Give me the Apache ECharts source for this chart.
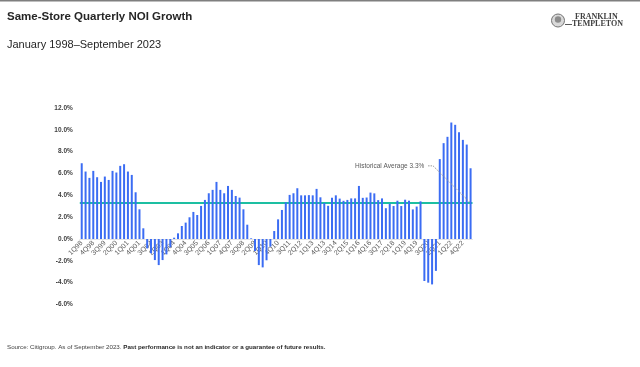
<!DOCTYPE html>
<html><head><meta charset="utf-8">
<script src="https://cdn.jsdelivr.net/npm/echarts@6/dist/echarts.min.js"></script>
<style>html,body{margin:0;padding:0;background:#fff}#c{width:640px;height:367px}</style>
</head><body><div id="c"></div>
<script>
// Quarter labels 1Q98 .. 2Q23
const quarters = [];
for (let y = 1998; y <= 2023; y++) {
  for (let q = 1; q <= 4; q++) {
    if (y === 2023 && q > 2) break;
    quarters.push(q + 'Q' + String(y).slice(2));
  }
}
// Same-store NOI growth, %
const noiGrowth = [
  6.94, 6.18, 5.60, 6.24, 5.66, 5.23, 5.72, 5.41, 6.24, 6.09, 6.70, 6.85,
  6.18, 5.87, 4.28, 2.72, 0.98, -0.86, -1.31, -1.93, -2.39, -1.93, -1.41, -0.76,
  0.12, 0.52, 1.19, 1.50, 1.99, 2.48, 2.20, 3.03, 3.58, 4.19, 4.50, 5.23,
  4.50, 4.19, 4.86, 4.50, 3.94, 3.79, 2.72, 1.31, 0.06, -1.10, -2.39, -2.60,
  -1.95, -0.70, 0.73, 1.80, 2.66, 3.36, 4.04, 4.19, 4.65, 4.00, 4.00, 4.02,
  4.00, 4.59, 3.82, 3.30, 3.04, 3.78, 4.00, 3.70, 3.50, 3.58, 3.72, 3.72,
  4.86, 3.77, 3.80, 4.25, 4.18, 3.56, 3.72, 2.82, 3.22, 3.02, 3.51, 3.02,
  3.60, 3.51, 2.71, 2.97, 3.45, -3.85, -4.00, -4.16, -2.92, 7.32, 8.78, 9.36,
  10.67, 10.46, 9.78, 9.08, 8.65, 6.48
];
const historicalAverage = 3.3;
const averageLabel = 'Historical Average 3.3%';
const yMin = -6, yMax = 12, yStep = 2;

const gridTop = 108, gridBottom = 62.5, H = 367;
const gridH = H - gridTop - gridBottom;
const zeroOffset = gridH * (0 - yMin) / (yMax - yMin); // distance from grid bottom to the zero line

const chart = echarts.init(document.getElementById('c'), null, {renderer: 'canvas'});
const FONT = 'Liberation Sans, Arial, sans-serif';

chart.setOption({
  animation: false,
  backgroundColor: '#fff',
  grid: {left: 79.8, right: 167.5, top: gridTop, bottom: gridBottom, containLabel: false},
  xAxis: {
    type: 'category',
    data: quarters,
    position: 'bottom',
    offset: -zeroOffset,
    z: 0,
    axisLine: {onZero: false, lineStyle: {color: '#e3e3e3', width: 1}},
    axisTick: {show: false},
    axisLabel: {interval: 2, rotate: 45, fontSize: 7, color: '#595959', margin: 3, fontFamily: FONT},
    splitLine: {show: false}
  },
  yAxis: {
    type: 'value',
    min: yMin, max: yMax, interval: yStep,
    axisLine: {show: false},
    axisTick: {show: false},
    splitLine: {show: false},
    axisLabel: {
      formatter: v => v.toFixed(1) + '%',
      fontSize: 6.5, fontWeight: 'bold', color: '#404040', margin: 7, fontFamily: FONT
    }
  },
  series: [{
    type: 'bar',
    data: noiGrowth,
    barWidth: 2,
    z: 5,
    itemStyle: {color: '#3b6cf3'},
    markLine: {
      silent: true,
      symbol: 'none',
      label: {show: false},
      lineStyle: {color: '#1dbfa2', width: 2, type: 'solid'},
      data: [{yAxis: historicalAverage}]
    }
  }]
});

// annotation: label + leader line to the average line near the last bar
const lastIdx = noiGrowth.length - 1;
const pLabel = chart.convertToPixel({gridIndex: 0}, [71, 6.7]);
const pEnd = chart.convertToPixel({gridIndex: 0}, [lastIdx, historicalAverage]);

chart.setOption({
  graphic: [
    {type: 'text', left: 7, top: 11, style: {text: 'Same-Store Quarterly NOI Growth', font: 'bold 11.5px ' + FONT, fill: '#262626'}},
    {type: 'text', left: 7, top: 39, style: {text: 'January 1998\u2013September 2023', font: '11px ' + FONT, fill: '#262626'}},
    {type: 'text', left: 7, top: 344, style: {
      rich: {a: {font: '6.2px ' + FONT, fill: '#404040'}, b: {font: 'bold 6.2px ' + FONT, fill: '#262626'}},
      text: '{a|Source: Citigroup. As of September 2023. }{b|Past performance is not an indicator or a guarantee of future results.}'
    }},
    // logo
    {type: 'circle', shape: {cx: 558, cy: 20.5, r: 6.5}, style: {fill: '#d9d9d9', stroke: '#737373', lineWidth: 1}},
    {type: 'circle', shape: {cx: 558, cy: 19.5, r: 3.2}, style: {fill: '#8c8c8c'}},
    {type: 'line', shape: {x1: 565, y1: 24.5, x2: 572, y2: 24.5}, style: {stroke: '#595959', lineWidth: 1}},
    {type: 'text', left: 575, top: 12.5, style: {text: 'FRANKLIN', font: 'bold 8px Liberation Serif, serif', fill: '#404040'}},
    {type: 'text', left: 572, top: 20, style: {text: 'TEMPLETON', font: 'bold 8px Liberation Serif, serif', fill: '#404040'}},
    // average annotation
    {type: 'text', z: 100, x: pLabel[0], y: pLabel[1], style: {text: averageLabel, font: '6.5px ' + FONT, fill: '#595959', verticalAlign: 'middle'}},
    {type: 'polyline', z: 100, zlevel: 1, shape: {points: [[pLabel[0] + 73, pLabel[1]], [pLabel[0] + 78, pLabel[1]], [pEnd[0] - 1, pEnd[1] - 1]]},
      style: {stroke: '#999999', lineWidth: 1, lineDash: [1.5, 1], fill: null}},
    // top border
    {type: 'rect', shape: {x: 0, y: 0, width: 640, height: 1.5}, style: {fill: '#7f7f7f'}}
  ]
});
</script></body></html>
